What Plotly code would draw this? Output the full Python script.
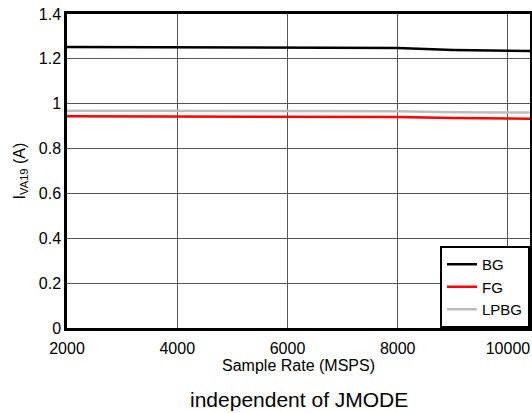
import plotly.graph_objects as go

sample_rate = [2000, 4000, 6000, 7000, 8000, 9000, 10000, 10400]
bg = [1.253, 1.252, 1.252, 1.251, 1.248, 1.240, 1.236, 1.235]
fg = [0.944, 0.944, 0.944, 0.943, 0.941, 0.936, 0.934, 0.933]
lpbg = [0.969, 0.969, 0.969, 0.968, 0.966, 0.962, 0.961, 0.961]

x_ticks = [2000, 4000, 6000, 8000, 10000]
x_ticktext = ["2000", "4000", "6000", "8000", "10000"]
y_ticks = [0, 0.2, 0.4, 0.6, 0.8, 1, 1.2, 1.4]
y_ticktext = ["0", "0.2", "0.4", "0.6", "0.8", "1", "1.2", "1.4"]

series = [("BG", bg, "#000000"), ("FG", fg, "#ff0000"), ("LPBG", lpbg, "#bdbdbd")]

fig = go.Figure()
for name, vals, col in series:
    fig.add_trace(go.Scatter(x=sample_rate, y=vals, mode="lines", name=name,
                             line=dict(color=col, width=2.5)))

font = "Liberation Sans, Arial, Helvetica, sans-serif"
top, bottom = 14, 85
plot_h = 413 - top - bottom
fig.update_layout(
    width=532, height=413,
    margin=dict(l=67, r=2, t=top, b=bottom),
    paper_bgcolor="white", plot_bgcolor="white",
    font=dict(family=font, size=16, color="black"),
    showlegend=True,
    legend=dict(x=1, y=0, xanchor="right", yanchor="bottom",
                bordercolor="black", borderwidth=2, bgcolor="white",
                font=dict(size=15), tracegroupgap=0),
    xaxis=dict(range=[2000, 10400], tickvals=x_ticks, ticktext=x_ticktext,
               showgrid=True, gridcolor="#555555", gridwidth=1,
               showline=True, linecolor="black", linewidth=2.5, mirror=True,
               ticks="", zeroline=False, automargin=False, ticklabelstandoff=4,
               tickfont=dict(size=16),
               title=dict(text="Sample Rate (MSPS)", standoff=0, font=dict(size=16))),
    yaxis=dict(range=[0, 1.4], tickvals=y_ticks, ticktext=y_ticktext,
               showgrid=True, gridcolor="#555555", gridwidth=1,
               showline=True, linecolor="black", linewidth=2.5, mirror=True,
               ticks="", zeroline=False, automargin=False,
               tickfont=dict(size=16),
               title=dict(text="I<sub>VA19</sub> (A)", standoff=10, font=dict(size=16))),
    annotations=[dict(text="independent of JMODE", x=0.5, xref="paper", yref="paper",
                      y=-(399 - (413 - bottom)) / plot_h,
                      showarrow=False, font=dict(size=21), xanchor="center", yanchor="middle")],
)
fig.write_html("out.html", config={"displayModeBar": False},
               post_script="document.body.style.margin='0';document.body.style.overflow='hidden';")
